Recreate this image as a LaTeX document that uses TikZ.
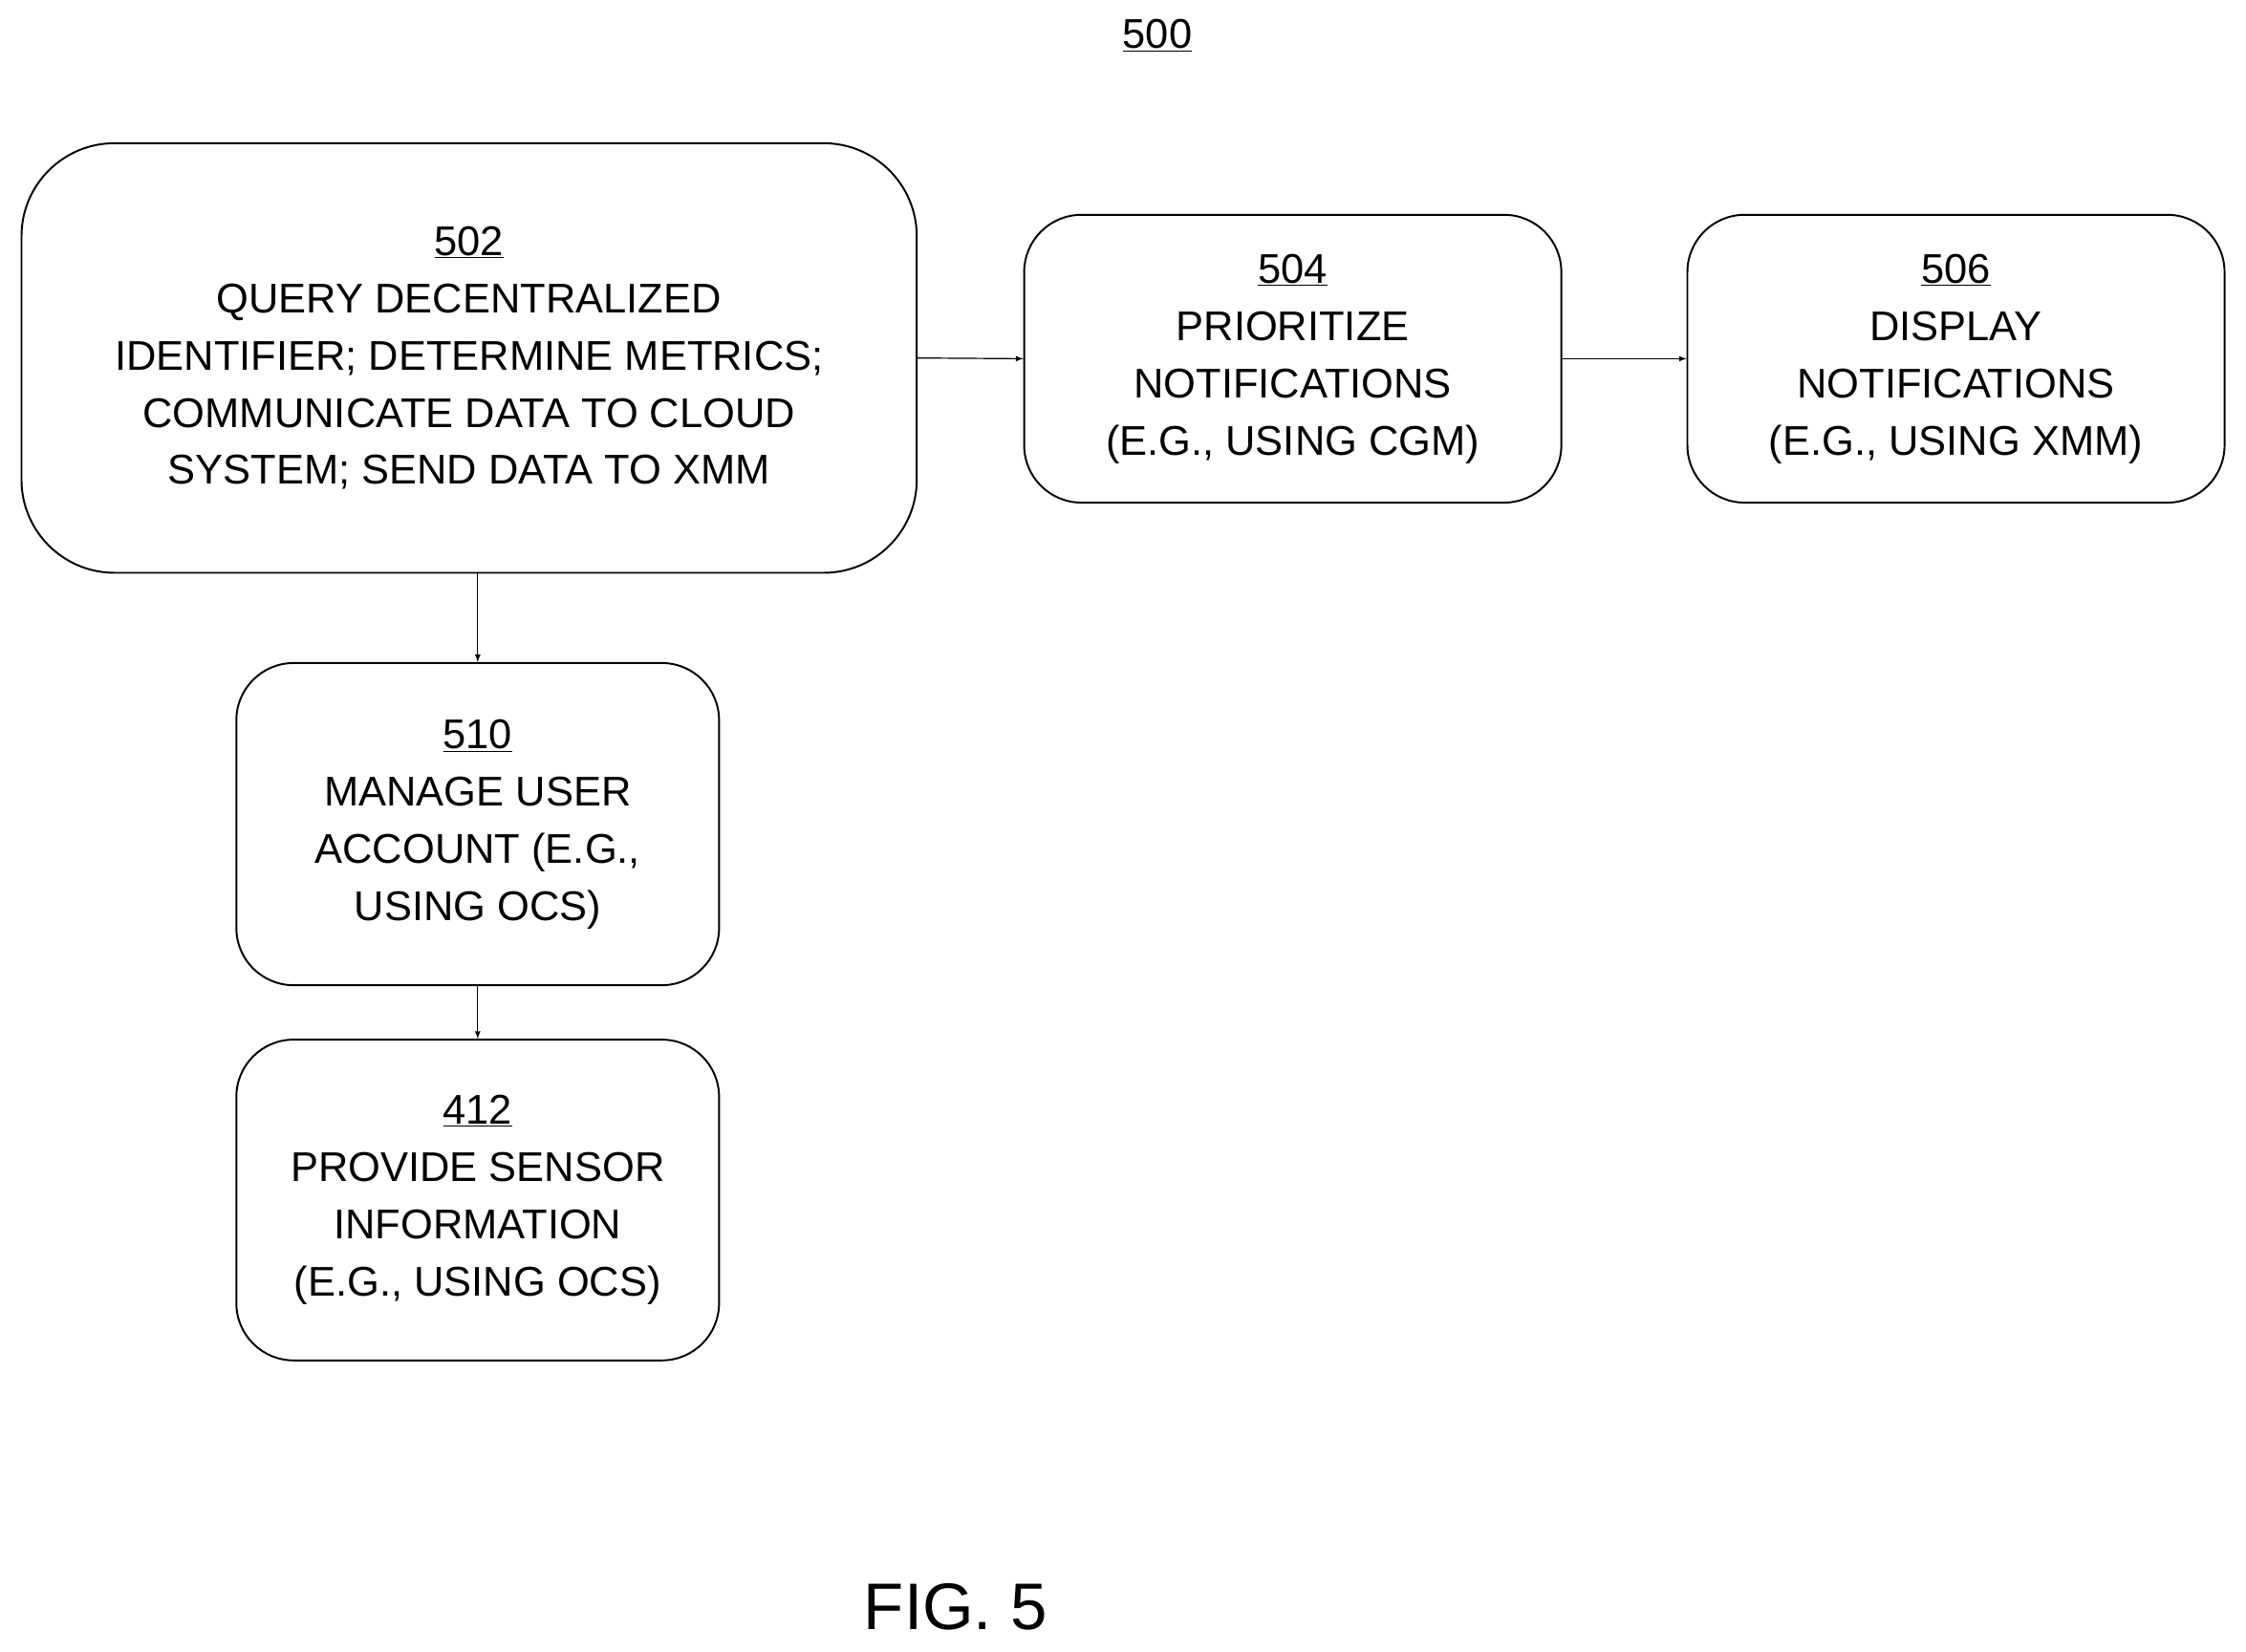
\documentclass[tikz,border=0pt]{standalone}
\usepackage{fontspec}
\setmainfont{Liberation Sans}
\usetikzlibrary{positioning}
\begin{document}
\begin{tikzpicture}[x=1pt,y=-1pt, >=latex,
    box/.style={draw, line width=1.3pt, rounded corners=40pt, align=center,
                 font=\fontsize{29}{40}\selectfont, inner sep=0pt},
    flow/.style={->, line width=0.8pt}]
    \useasboundingbox (0,0) rectangle (1568,1153);
    % title
    \node (title) at (808,25) {\fontsize{29}{34}\selectfont\underline{500}};
    % the steps
    \node[box, rounded corners=65pt, minimum width=625pt, minimum height=300pt] (s502) at (327.5,250)
        {\underline{502}\\QUERY DECENTRALIZED\\IDENTIFIER; DETERMINE METRICS;\\COMMUNICATE DATA TO CLOUD\\SYSTEM; SEND DATA TO XMM};
    \node[box, minimum width=375pt, minimum height=201pt] (s504) at (902.5,250.5)
        {\underline{504}\\PRIORITIZE\\NOTIFICATIONS\\(E.G., USING CGM)};
    \node[box, minimum width=375pt, minimum height=201pt] (s506) at (1365.5,250.5)
        {\underline{506}\\DISPLAY\\NOTIFICATIONS\\(E.G., USING XMM)};
    \node[box, minimum width=337pt, minimum height=225pt] (s510) at (333.5,575.5)
        {\underline{510}\\MANAGE USER\\ACCOUNT (E.G.,\\USING OCS)};
    \node[box, minimum width=337pt, minimum height=224pt] (s412) at (333.5,838)
        {\underline{412}\\PROVIDE SENSOR\\INFORMATION\\(E.G., USING OCS)};
    % connectors
    \draw[flow] (s502.east) -- (s504.west);
    \draw[flow] (s504.east) -- (s506.west);
    \draw[flow] (s502.south -| s510.north) -- (s510.north);
    \draw[flow] (s510) -- (s412);
    % figure label
    \node (fig) at (667,1122) {\fontsize{46}{50}\selectfont FIG. 5};
\end{tikzpicture}
\end{document}
